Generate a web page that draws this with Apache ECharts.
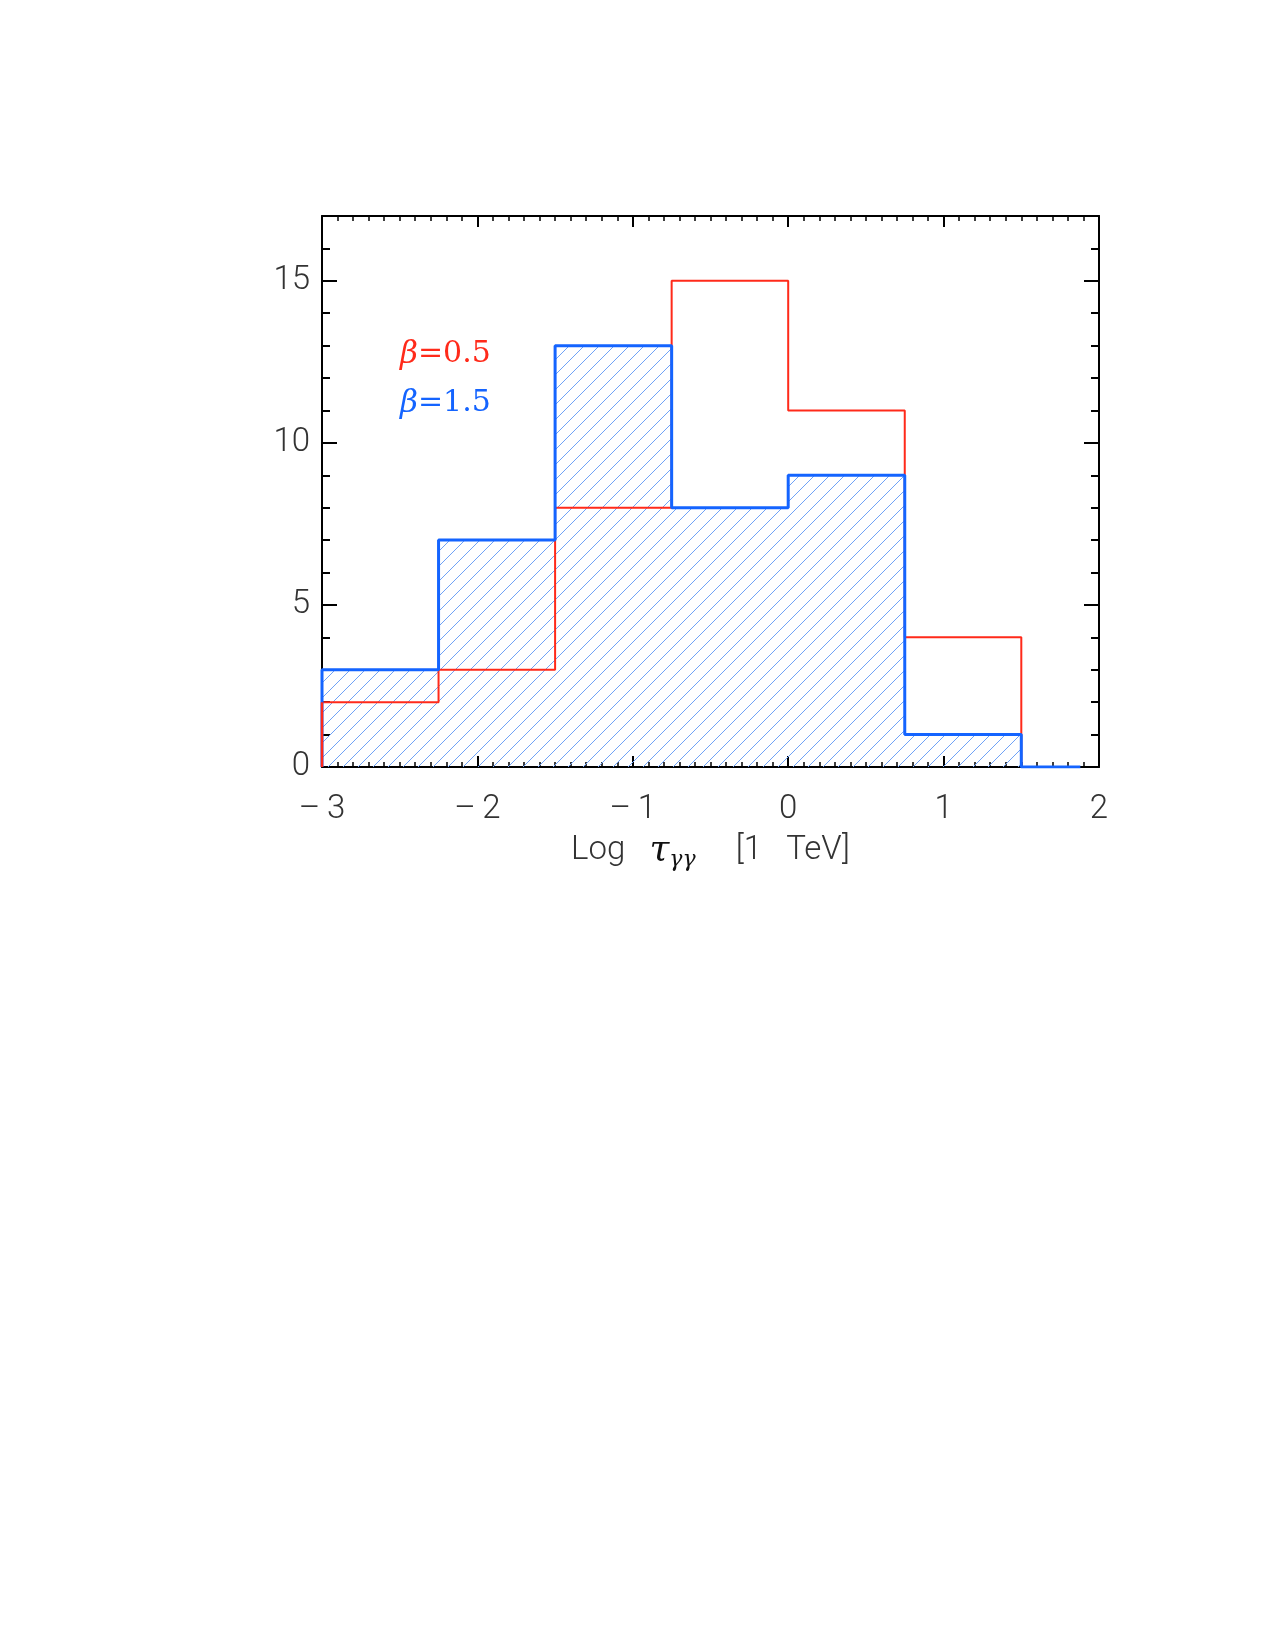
<!DOCTYPE html>
<html>
<head>
    <meta charset="utf-8" />
    <script src="https://cdn.jsdelivr.net/npm/echarts@6/dist/echarts.min.js"></script>
    <style>
        body { margin: 0; background: #fff; }
        #main { width: 1275px; height: 1650px; }
    </style>
</head>
<body>
    <div id="main"></div>
    <script type="text/javascript">
        // bin edges (Log tau) and counts
        var binEdges = [-3, -2.25, -1.5, -0.75, 0, 0.75, 1.5];
        var redCounts = [2, 3, 8, 15, 11, 4];      // beta = 0.5
        var blueCounts = [3, 7, 13, 8, 9, 1];      // beta = 1.5
        var blueTailEnd = 1.88;                    // blue zero line runs a bit past last edge
        var xTicks = [-3, -2, -1, 0, 1, 2];
        var yTicks = [0, 5, 10, 15];

        var RED = '#ff2a1a';
        var BLUE = '#1464ff';
        var labelFont = 'Roboto';

        // build step data: [edge, count] ... then drop to 0 at the last edge
        function stepData(counts, startAtZero, tail) {
            var d = [];
            if (startAtZero) d.push([binEdges[0], 0]);
            for (var i = 0; i < counts.length; i++) {
                d.push([binEdges[i], counts[i]]);
            }
            d.push([binEdges[binEdges.length - 1], 0]);
            if (tail != null) d.push([tail, 0]);
            return d;
        }

        // diagonal hatch tile
        var tile = document.createElement('canvas');
        tile.width = 15;
        tile.height = 15;
        var ctx = tile.getContext('2d');
        ctx.strokeStyle = '#6fa2f6';
        ctx.lineWidth = 1;
        ctx.beginPath();
        ctx.moveTo(-1, 16); ctx.lineTo(16, -1);
        ctx.moveTo(-2, 2); ctx.lineTo(2, -2);
        ctx.moveTo(13, 17); ctx.lineTo(17, 13);
        ctx.stroke();

        var myChart = echarts.init(document.getElementById('main'));

        var gridPos = { left: 322, top: 216, width: 777, height: 551 };

        function xAx(pos, show) {
            return {
                type: 'value', position: pos, min: -3, max: 2, interval: 1,
                axisLine: { show: true, onZero: false, lineStyle: { color: '#000', width: 2 } },
                axisTick: { show: true, inside: true, length: 11, lineStyle: { color: '#000', width: 2 } },
                minorTick: { show: true, splitNumber: 10, length: 5, lineStyle: { color: '#000', width: 1.5 } },
                splitLine: { show: false },
                axisLabel: {
                    show: show, margin: 26, fontSize: 33, fontFamily: labelFont, fontWeight: 300, color: '#333',
                    formatter: function (v) { return xTicks.indexOf(v) < 0 ? '' : (v < 0 ? '\u2013\u2009' + (-v) : '' + v); }
                },
                name: show ? '{a|Log   }{t|\u03c4}{s|\u03b3\u03b3}{a|     [1   TeV]}' : '',
                nameLocation: 'middle', nameGap: 64,
                nameTextStyle: {
                    rich: {
                        a: { fontSize: 33, fontFamily: labelFont, fontWeight: 300, color: '#333' },
                        t: { fontSize: 36, fontFamily: 'DejaVu Serif', fontStyle: 'italic', color: '#111' },
                        s: { fontSize: 22, fontFamily: 'DejaVu Serif', fontStyle: 'italic', color: '#111', padding: [18, 0, 0, 0] }
                    }
                }
            };
        }

        function yAx(pos, major, show) {
            return {
                type: 'value', position: pos, min: 0, max: 17, interval: major ? 5 : 1,
                axisLine: { show: major, onZero: false, lineStyle: { color: '#000', width: 2 } },
                axisTick: { show: true, inside: true, length: major ? 15 : 8, lineStyle: { color: '#000', width: 2 } },
                splitLine: { show: false },
                axisLabel: {
                    show: show, margin: 12, fontSize: 33, fontFamily: labelFont, fontWeight: 300, color: '#333',
                    formatter: function (v) { return yTicks.indexOf(v) < 0 ? '' : '' + v; }
                }
            };
        }

        var option = {
            backgroundColor: '#fff',
            animation: false,
            grid: gridPos,
            xAxis: [xAx('bottom', true), xAx('top', false)],
            yAxis: [yAx('left', true, true), yAx('left', false, false), yAx('right', true, false), yAx('right', false, false)],
            graphic: [
                {
                    type: 'text', left: 400, top: 339,
                    style: {
                        text: '{b|\u03b2}{n|=0.5}',
                        rich: {
                            b: { fontSize: 31, fontFamily: 'DejaVu Serif', fontStyle: 'italic', fill: RED },
                            n: { fontSize: 30, fontFamily: 'DejaVu Serif', fill: RED }
                        }
                    }
                },
                {
                    type: 'text', left: 400, top: 388,
                    style: {
                        text: '{b|\u03b2}{n|=1.5}',
                        rich: {
                            b: { fontSize: 31, fontFamily: 'DejaVu Serif', fontStyle: 'italic', fill: BLUE },
                            n: { fontSize: 30, fontFamily: 'DejaVu Serif', fill: BLUE }
                        }
                    }
                }
            ],
            series: [
                {
                    // hatched fill of beta=1.5
                    type: 'line', step: 'end', symbol: 'none',
                    data: stepData(blueCounts, true, null),
                    lineStyle: { width: 0, opacity: 0 },
                    areaStyle: { color: { image: tile, repeat: 'repeat' }, opacity: 1 }
                },
                {
                    type: 'line', step: 'end', symbol: 'none',
                    data: stepData(redCounts, true, null),
                    lineStyle: { color: RED, width: 2 }
                },
                {
                    type: 'line', step: 'end', symbol: 'none',
                    data: stepData(blueCounts, true, blueTailEnd),
                    lineStyle: { color: BLUE, width: 3 }
                },
                {
                    // red left edge sits above the blue one
                    type: 'line', symbol: 'none',
                    data: [[binEdges[0], 0], [binEdges[0], redCounts[0]]],
                    lineStyle: { color: RED, width: 2.5 }
                }
            ]
        };
        myChart.setOption(option);
    </script>
</body>
</html>
